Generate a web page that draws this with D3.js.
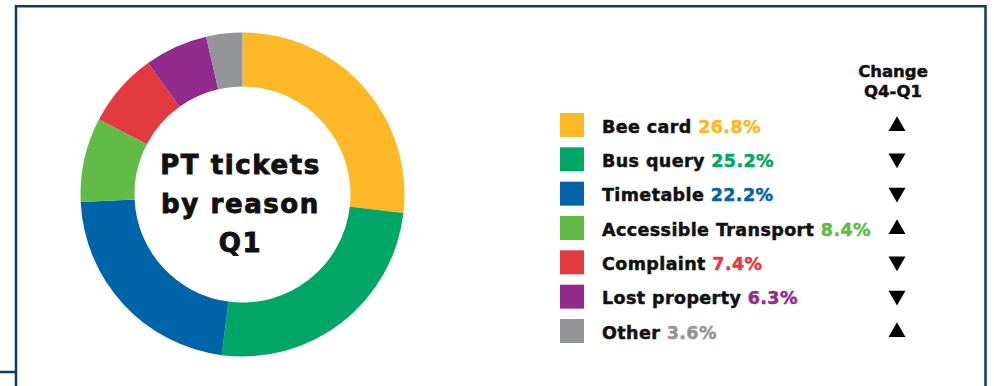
<!DOCTYPE html>
<html>
<head>
<meta charset="utf-8">
<script src="https://cdn.jsdelivr.net/npm/d3@7"></script>
<style>
  body { margin:0; background:#fff; }
  svg text { font-family:"DejaVu Sans", sans-serif; font-weight:bold; paint-order:stroke; }
</style>
</head>
<body>
<div id="chart"></div>
<script>
var categories = ['Bee card', 'Bus query', 'Timetable', 'Accessible Transport', 'Complaint', 'Lost property', 'Other']
var values     = [26.8, 25.2, 22.2, 8.4, 7.4, 6.3, 3.6]
var colors     = ['#fdb827', '#00a665', '#0065a8', '#62bb46', '#e23b3f', '#922b8c', '#939598']
var changes    = ['up', 'down', 'down', 'up', 'down', 'down', 'up']
var centerLines = ['PT tickets', 'by reason', 'Q1']
var changeTitle = ['Change', 'Q4-Q1']

var w = 994, h = 386
var navy = '#0f3b63'
var cx = 242.5, cy = 194.5
var rOuter = 162, rInner = 108

var data = categories.map((c, i)=> ({ name:c, value:values[i], color:colors[i], change:changes[i] }))

var svg = d3.select('#chart').append('svg')
    .attr('width', w)
    .attr('height', h)

// frame
svg.append('path')
    .attr('d', 'M16,386 V6.2 H985.5 V386')
    .attr('fill', 'none')
    .attr('stroke', navy)
    .attr('stroke-width', 2.5)
svg.append('line')
    .attr('x1', 0).attr('x2', 16)
    .attr('y1', 372).attr('y2', 372)
    .attr('stroke', navy)
    .attr('stroke-width', 2.5)

// donut
var pie = d3.pie().sort(null).value(d=> d.value)
var arc = d3.arc().innerRadius(rInner).outerRadius(rOuter)

var donut = svg.append('g').attr('transform', 'translate(' + cx + ',' + cy + ')')
donut.selectAll('path')
    .data(pie(data))
    .join('path')
    .attr('d', arc)
    .attr('fill', d=> d.data.color)

donut.selectAll('text.center')
    .data(centerLines)
    .join('text')
    .attr('class', 'center')
    .attr('text-anchor', 'middle')
    .attr('x', -2)
    .attr('y', (d, i)=> -21 + i*39)
    .attr('font-size', 26)
    .attr('letter-spacing', 1.6)
    .attr('fill', '#111')
    .attr('stroke', '#111')
    .attr('stroke-width', 0.9)
    .text(d=> d)

// legend
var y = d3.scalePoint()
    .domain(categories)
    .range([125, 331])

var legend = svg.append('g')
var rows = legend.selectAll('g.row')
    .data(data)
    .join('g')
    .attr('class', 'row')
    .attr('transform', d=> 'translate(0,' + y(d.name) + ')')

rows.append('rect')
    .attr('x', 560)
    .attr('y', -12)
    .attr('width', 24)
    .attr('height', 24)
    .attr('fill', d=> d.color)

var label = rows.append('text')
    .attr('x', 602)
    .attr('y', 7.5)
    .attr('font-size', 17.5)
    .attr('letter-spacing', 0.4)
    .attr('stroke-width', 0.5)
label.append('tspan')
    .attr('fill', '#111')
    .attr('stroke', '#111')
    .text(d=> d.name + ' ')
label.append('tspan')
    .attr('fill', d=> d.color)
    .attr('stroke', d=> d.color)
    .text(d=> d.value.toFixed(1) + '%')

var tri = d3.symbol().type(d3.symbolTriangle).size(125)
rows.append('path')
    .attr('d', tri)
    .attr('fill', '#000')
    .attr('transform', d=> 'translate(897,' + (d.change === 'up' ? 1 : -1) + ')' + (d.change === 'up' ? '' : ' rotate(180)'))

svg.selectAll('text.head')
    .data(changeTitle)
    .join('text')
    .attr('class', 'head')
    .attr('text-anchor', 'middle')
    .attr('x', 893)
    .attr('y', (d, i)=> 77 + i*20)
    .attr('font-size', 16.5)
    .attr('fill', '#111')
    .attr('stroke', '#111')
    .attr('stroke-width', 0.5)
    .text(d=> d)
</script>
</body>
</html>
